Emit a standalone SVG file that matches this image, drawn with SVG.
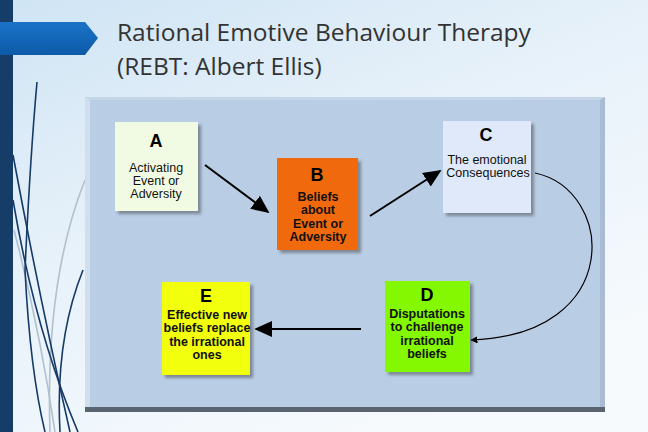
<svg xmlns="http://www.w3.org/2000/svg" width="648" height="432" viewBox="0 0 648 432">
<defs>
<linearGradient id="bg" x1="0" y1="0" x2="0.6" y2="1">
<stop offset="0" stop-color="#cfe4f4"/>
<stop offset="0.5" stop-color="#e8f2fa"/>
<stop offset="1" stop-color="#f6fafd"/>
</linearGradient>
<linearGradient id="banner" x1="0" y1="0" x2="0" y2="1">
<stop offset="0" stop-color="#1a73c8"/>
<stop offset="1" stop-color="#0d5aa8"/>
</linearGradient>
<marker id="ah" viewBox="0 0 10 10" refX="9" refY="5" markerWidth="6" markerHeight="6" orient="auto" markerUnits="strokeWidth">
<path d="M0,0 L10,5 L0,10 Z" fill="#000"/>
</marker>
<marker id="ahs" viewBox="0 0 10 10" refX="9" refY="5" markerWidth="9" markerHeight="9" orient="auto" markerUnits="strokeWidth">
<path d="M0,0.5 L10,5 L0,9.5 Z" fill="#000"/>
</marker>
<filter id="sh" x="-10%" y="-10%" width="130%" height="130%">
<feDropShadow dx="3" dy="3" stdDeviation="1.5" flood-color="#333" flood-opacity="0.45"/>
</filter>
</defs>
<style>
.title{font-family:"Open Sans","Noto Sans",sans-serif;font-size:24.5px;fill:#333}
.let{font-family:"Liberation Sans",Arial,sans-serif;font-size:18px;font-weight:bold;fill:#000;text-anchor:middle}
.t{font-family:"Liberation Sans",Arial,sans-serif;font-size:12.5px;fill:#111;text-anchor:middle}
.tb{font-family:"Liberation Sans",Arial,sans-serif;font-size:12.5px;font-weight:bold;fill:#111;text-anchor:middle}
.box{filter:url(#sh)}
.con{stroke:#000;fill:none}
.deco{fill:none;stroke:#163a66;stroke-width:1.6}
.decol{fill:none;stroke:#b0c0cc;stroke-width:1.6}
</style>
<rect width="648" height="432" fill="url(#bg)"/>
<rect x="0" y="0" width="13" height="432" fill="#163d68"/>
<path d="M0,22 L85,22 L98,38 L85,55 L0,55 Z" fill="url(#banner)"/>
<g id="decoration">
<path class="decol" d="M14,230 Q40,330 55,432"/>
<path class="decol" d="M85,180 Q45,280 50,432"/>
<path class="deco" d="M37,82 Q30,160 25,270 Q30,370 45,432"/>
<path class="deco" d="M13,155 Q40,300 70,432"/>
<path class="deco" d="M83,270 Q55,340 60,432"/>
<path class="deco" d="M13,200 Q35,330 78,432"/>
</g>
<text class="title" x="117" y="41">Rational Emotive Behaviour Therapy</text>
<text class="title" x="117" y="75">(REBT: Albert Ellis)</text>
<g id="panel">
<rect x="85" y="97" width="520" height="315" fill="#b9cde5"/>
<path d="M85,97 L90,100 L90,408 L85,412 Z" fill="#d0deee"/>
<path d="M85,97 L605,97 L600,100 L90,100 Z" fill="#c6d6e9"/>
<path d="M600,100 L605,97 L605,412 L600,408 Z" fill="#a9bcd3"/>
<rect x="85" y="407" width="520" height="5" fill="#5a6470"/>
</g>
<g id="connectors">
<line class="con" x1="205" y1="165" x2="268" y2="212" stroke-width="2" marker-end="url(#ahs)"/>
<line class="con" x1="370" y1="216" x2="440" y2="171" stroke-width="2" marker-end="url(#ahs)"/>
<path class="con" d="M535,173 C615,190 625,335 471,340" stroke-width="1.2" marker-end="url(#ah)"/>
<line class="con" x1="361" y1="329" x2="256" y2="329" stroke-width="2" marker-end="url(#ahs)"/>
</g>
<g id="nodeA">
<rect class="box" x="115" y="122" width="83" height="89" fill="#f1fbe3"/>
<text class="let" x="156" y="147">A</text>
<text class="t" x="156" y="172">Activating</text>
<text class="t" x="156" y="185">Event or</text>
<text class="t" x="156" y="198">Adversity</text>
</g>
<g id="nodeB">
<rect class="box" x="277" y="158" width="81" height="92" fill="#f06a10"/>
<text class="let" x="317" y="181">B</text>
<text class="tb" x="318" y="201">Beliefs</text>
<text class="tb" x="318" y="214">about</text>
<text class="tb" x="318" y="228">Event or</text>
<text class="tb" x="318" y="241">Adversity</text>
</g>
<g id="nodeC">
<rect class="box" x="443" y="121" width="88" height="92" fill="#dfe9fa"/>
<text class="let" x="486" y="141">C</text>
<text class="t" x="487" y="164">The emotional</text>
<text class="t" x="488" y="177">Consequences</text>
</g>
<g id="nodeD">
<rect class="box" x="385" y="281" width="85" height="91" fill="#84f800"/>
<text class="let" x="427" y="301">D</text>
<text class="tb" x="427" y="318">Disputations</text>
<text class="tb" x="427" y="331">to challenge</text>
<text class="tb" x="427" y="345">irrational</text>
<text class="tb" x="427" y="358">beliefs</text>
</g>
<g id="nodeE">
<rect class="box" x="162" y="282" width="88" height="93" fill="#f2ff0a"/>
<text class="let" x="206" y="302">E</text>
<text class="tb" x="207" y="319">Effective new</text>
<text class="tb" x="207" y="332">beliefs replace</text>
<text class="tb" x="207" y="346">the irrational</text>
<text class="tb" x="207" y="359">ones</text>
</g>
</svg>
